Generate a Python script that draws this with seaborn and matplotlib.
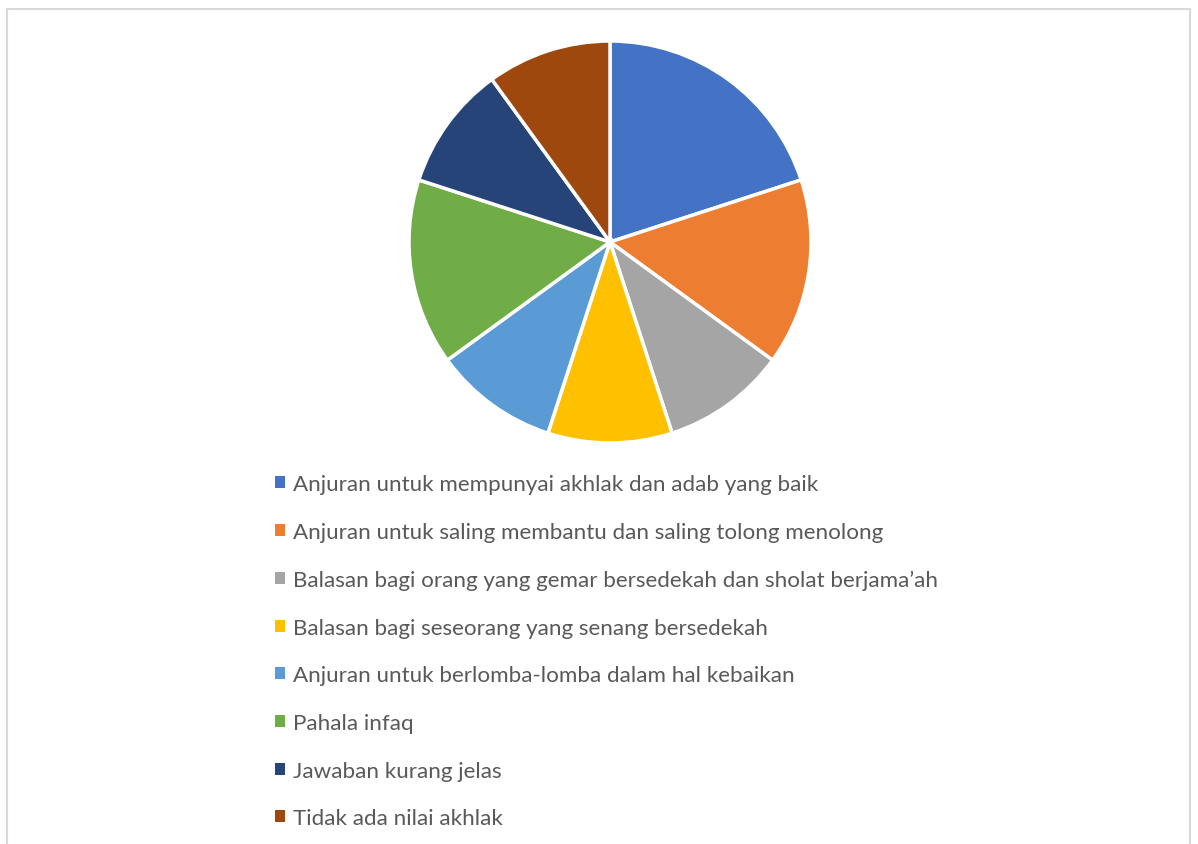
import matplotlib
matplotlib.use("Agg")
import matplotlib.pyplot as plt
import seaborn as sns
from matplotlib.patches import Rectangle

categories = [
    "Anjuran untuk mempunyai akhlak dan adab yang baik",
    "Anjuran untuk saling membantu dan saling tolong menolong",
    "Balasan bagi orang yang gemar bersedekah dan sholat berjama\u2019ah",
    "Balasan bagi seseorang yang senang bersedekah",
    "Anjuran untuk berlomba-lomba dalam hal kebaikan",
    "Pahala infaq",
    "Jawaban kurang jelas",
    "Tidak ada nilai akhlak",
]
values = [4, 3, 2, 2, 2, 3, 2, 2]
colors = ["#4472C4", "#ED7D31", "#A5A5A5", "#FFC000", "#5B9BD5", "#70AD47", "#264478", "#9E480E"]

sns.set_theme(style="white")
plt.rcParams['font.family'] = ['Lato', 'DejaVu Sans']

W, H = 1198, 845
fig = plt.figure(figsize=(W / 100, H / 100), dpi=100)
fig.patch.set_facecolor("white")

# border
fig.patches.append(Rectangle((7 / W, -0.05), (1190 - 7) / W, (845 - 10) / H + 0.05,
                             transform=fig.transFigure, fill=False,
                             edgecolor="#D9D9D9", linewidth=1.5))

cx, cy, r = 610, 243, 201
ax = fig.add_axes([(cx - r) / W, (H - cy - r) / H, 2 * r / W, 2 * r / H])
palette = sns.color_palette(colors)
wedges, _ = ax.pie(values, colors=palette, startangle=90, counterclock=False,
                   radius=1, wedgeprops=dict(edgecolor="white", linewidth=2.5))
ax.set_xlim(-1, 1)
ax.set_ylim(-1, 1)
ax.set_aspect("auto")
ax.axis("off")

leg = fig.legend(wedges, categories, loc="upper left",
                 bbox_to_anchor=(275 / W, 1 - 475 / H),
                 frameon=False, fontsize=16.1, labelcolor="#595959",
                 handlelength=0.45, handleheight=0.45, handletextpad=0.36,
                 labelspacing=1.24, borderaxespad=0, borderpad=0)
for h in leg.legend_handles:
    h.set_edgecolor("none")

fig.savefig("out.png", dpi=100, facecolor="white")
